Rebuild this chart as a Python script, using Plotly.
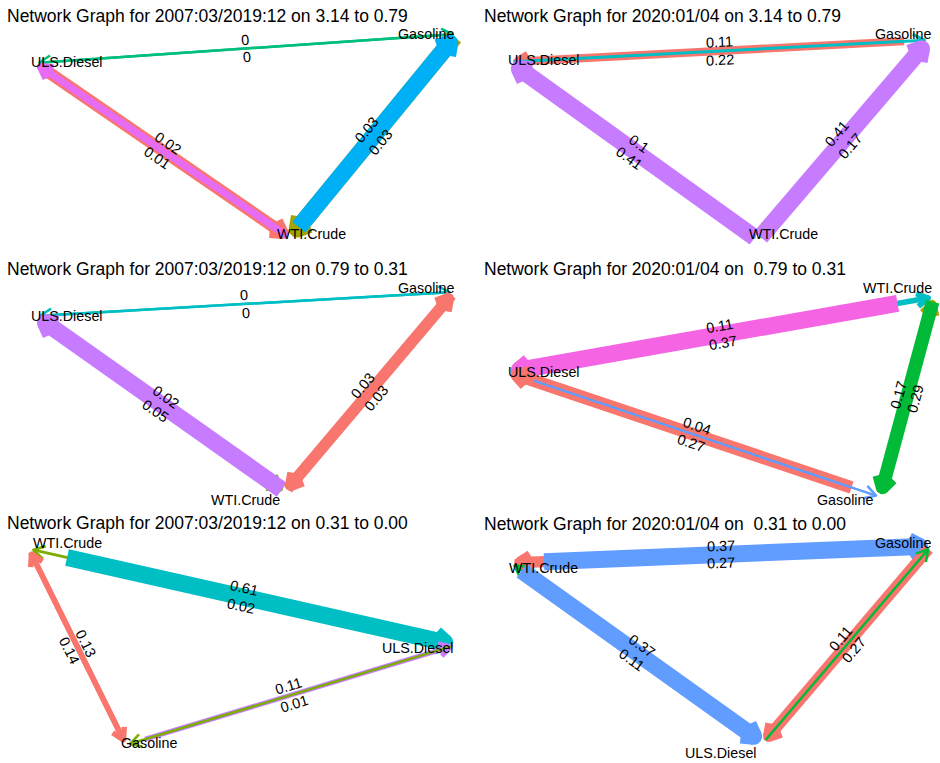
import math
import plotly.graph_objects as go

# ---------------------------------------------------------------- data
titles = [
    "Network Graph for 2007:03/2019:12 on 3.14 to 0.79",
    "Network Graph for 2020:01/04 on 3.14 to 0.79",
    "Network Graph for 2007:03/2019:12 on 0.79 to 0.31",
    "Network Graph for 2020:01/04 on\u00a0 0.79 to 0.31",
    "Network Graph for 2007:03/2019:12 on 0.31 to 0.00",
    "Network Graph for 2020:01/04 on\u00a0 0.31 to 0.00",
]

node_names = ["WTI.Crude", "Gasoline", "ULS.Diesel"]

# directed spillover edges per panel (drawing order: later edges on top)
p1_from = ["Gasoline", "ULS.Diesel", "ULS.Diesel", "WTI.Crude", "Gasoline", "WTI.Crude"]
p1_to = ["ULS.Diesel", "Gasoline", "WTI.Crude", "ULS.Diesel", "WTI.Crude", "Gasoline"]
p1_weight = [0, 0, 0.02, 0.01, 0.03, 0.03]

p2_from = ["Gasoline", "ULS.Diesel", "ULS.Diesel", "WTI.Crude", "Gasoline", "WTI.Crude"]
p2_to = ["ULS.Diesel", "Gasoline", "WTI.Crude", "ULS.Diesel", "WTI.Crude", "Gasoline"]
p2_weight = [0.22, 0.11, 0.1, 0.41, 0.17, 0.41]

p3_from = ["Gasoline", "ULS.Diesel", "ULS.Diesel", "WTI.Crude", "Gasoline", "WTI.Crude"]
p3_to = ["ULS.Diesel", "Gasoline", "WTI.Crude", "ULS.Diesel", "WTI.Crude", "Gasoline"]
p3_weight = [0, 0, 0.02, 0.05, 0.03, 0.03]

p4_from = ["ULS.Diesel", "WTI.Crude", "Gasoline", "WTI.Crude", "Gasoline", "ULS.Diesel"]
p4_to = ["WTI.Crude", "ULS.Diesel", "WTI.Crude", "Gasoline", "ULS.Diesel", "Gasoline"]
p4_weight = [0.11, 0.37, 0.17, 0.29, 0.27, 0.04]

p5_from = ["ULS.Diesel", "WTI.Crude", "Gasoline", "WTI.Crude", "Gasoline", "ULS.Diesel"]
p5_to = ["WTI.Crude", "ULS.Diesel", "WTI.Crude", "Gasoline", "ULS.Diesel", "Gasoline"]
p5_weight = [0.02, 0.61, 0.14, 0.13, 0.11, 0.01]

p6_from = ["Gasoline", "WTI.Crude", "ULS.Diesel", "WTI.Crude", "Gasoline", "ULS.Diesel"]
p6_to = ["WTI.Crude", "Gasoline", "WTI.Crude", "ULS.Diesel", "ULS.Diesel", "Gasoline"]
p6_weight = [0.27, 0.37, 0.11, 0.37, 0.27, 0.11]

# ---------------------------------------------------------------- styling
p1_colours = ["#00BF7D", "#00BF7D", "#F8766D", "#E76BF3", "#A3A500", "#00B0F6"]
p2_colours = ["#F8766D", "#00BFC4", "#00BFC4", "#C77CFF", "#7CAE00", "#C77CFF"]
p3_colours = ["#00BFC4", "#00BFC4", "#7CAE00", "#C77CFF", "#F8766D", "#F8766D"]
p4_colours = ["#00BFC4", "#F564E3", "#B79F00", "#00BA38", "#F8766D", "#619CFF"]
p5_colours = ["#7CAE00", "#00BFC4", "#F8766D", "#F8766D", "#C77CFF", "#7CAE00"]
p6_colours = ["#F8766D", "#619CFF", "#00BA38", "#619CFF", "#F8766D", "#00BA38"]

# distance (px) by which each edge line starts away from its source node
p1_start_cap = [4, 4, 12, 4, 4, 14]
p2_start_cap = [25, 4, 4, 4, 4, 4]
p3_start_cap = [4, 4, 4, 4, 4, 4]
p4_start_cap = [4, 37, 4, 5, 30, 27]
p5_start_cap = [4, 39, 4, 4, 20, 4]
p6_start_cap = [4, 33, 4, 13, 4, 4]

# node layout in page pixels, and where each node's name is written
p1_nodes = {"ULS.Diesel": (35, 63), "Gasoline": (457, 34), "WTI.Crude": (290, 238)}
p2_nodes = {"ULS.Diesel": (510, 62), "Gasoline": (929, 40), "WTI.Crude": (758, 240)}
p3_nodes = {"ULS.Diesel": (36, 316), "Gasoline": (454, 292), "WTI.Crude": (285, 492)}
p4_nodes = {"ULS.Diesel": (508, 372), "Gasoline": (880, 497), "WTI.Crude": (934, 297)}
p5_nodes = {"ULS.Diesel": (456, 645), "Gasoline": (126, 745), "WTI.Crude": (29, 549)}
p6_nodes = {"ULS.Diesel": (763, 743), "Gasoline": (931, 546), "WTI.Crude": (511, 563)}

p1_name_pos = {"ULS.Diesel": (67, 62), "Gasoline": (426, 34), "WTI.Crude": (311, 234)}
p2_name_pos = {"ULS.Diesel": (544, 60), "Gasoline": (903, 34), "WTI.Crude": (783, 234)}
p3_name_pos = {"ULS.Diesel": (67, 316), "Gasoline": (426, 288), "WTI.Crude": (245, 500)}
p4_name_pos = {"ULS.Diesel": (544, 372), "Gasoline": (845, 500), "WTI.Crude": (897, 288)}
p5_name_pos = {"ULS.Diesel": (418, 648), "Gasoline": (149, 743), "WTI.Crude": (67, 543)}
p6_name_pos = {"ULS.Diesel": (721, 753), "Gasoline": (903, 543), "WTI.Crude": (543, 568)}

title_pos = [(5, 16), (482, 16), (5, 269), (482, 269), (5, 523), (482, 524)]

panels = [
    (p1_from, p1_to, p1_weight, p1_colours, p1_start_cap, p1_nodes, p1_name_pos),
    (p2_from, p2_to, p2_weight, p2_colours, p2_start_cap, p2_nodes, p2_name_pos),
    (p3_from, p3_to, p3_weight, p3_colours, p3_start_cap, p3_nodes, p3_name_pos),
    (p4_from, p4_to, p4_weight, p4_colours, p4_start_cap, p4_nodes, p4_name_pos),
    (p5_from, p5_to, p5_weight, p5_colours, p5_start_cap, p5_nodes, p5_name_pos),
    (p6_from, p6_to, p6_weight, p6_colours, p6_start_cap, p6_nodes, p6_name_pos),
]

W, H = 940, 763
FONT = "Liberation Sans, Arial, sans-serif"
WIDTH_RANGE = (2.5, 17.0)
END_GAP = 3.0
ARM_LEN = 13.0
ARM_ANGLE = math.radians(30)
LABEL_DODGE = 9.0


# ---------------------------------------------------------------- geometry helpers
def add(p, q, s=1.0):
    return (p[0] + s * q[0], p[1] + s * q[1])


def rect(p, q, w):
    dx, dy = q[0] - p[0], q[1] - p[1]
    d = math.hypot(dx, dy) or 1.0
    nx, ny = -dy / d * w / 2, dx / d * w / 2
    return [(p[0] + nx, p[1] + ny), (q[0] + nx, q[1] + ny),
            (q[0] - nx, q[1] - ny), (p[0] - nx, p[1] - ny)]


def disc(c, r, k=20):
    return [(c[0] + r * math.cos(2 * math.pi * i / k),
             c[1] + r * math.sin(2 * math.pi * i / k)) for i in range(k)]


def edge_polygons(src, tgt, w, cap):
    """Line body plus an open (chevron) arrowhead, stroked at the edge width."""
    dx, dy = tgt[0] - src[0], tgt[1] - src[1]
    d = math.hypot(dx, dy)
    u = (dx / d, dy / d)
    n = (-u[1], u[0])
    tip = add(tgt, u, -(END_GAP + w / 2))
    start = add(src, u, cap)
    a1 = (-math.cos(ARM_ANGLE) * u[0] + math.sin(ARM_ANGLE) * n[0],
          -math.cos(ARM_ANGLE) * u[1] + math.sin(ARM_ANGLE) * n[1])
    a2 = (-math.cos(ARM_ANGLE) * u[0] - math.sin(ARM_ANGLE) * n[0],
          -math.cos(ARM_ANGLE) * u[1] - math.sin(ARM_ANGLE) * n[1])
    return [rect(start, tip, w),
            rect(tip, add(tip, a1, ARM_LEN), w),
            rect(tip, add(tip, a2, ARM_LEN), w),
            disc(tip, w / 2)]


def width_of(v, lo, hi):
    if hi == lo:
        return WIDTH_RANGE[0]
    return WIDTH_RANGE[0] + (v - lo) / (hi - lo) * (WIDTH_RANGE[1] - WIDTH_RANGE[0])


def fmt(v):
    return f"{v:g}"


# ---------------------------------------------------------------- figure
fig = go.Figure()
annotations = []

for k, (efrom, eto, weight, colours, caps, nodes, name_pos) in enumerate(panels):
    lo, hi = min(weight), max(weight)
    for s, t, v, col, cap in zip(efrom, eto, weight, colours, caps):
        w = width_of(v, lo, hi)
        for poly in edge_polygons(nodes[s], nodes[t], w, cap):
            xs = [p[0] for p in poly] + [poly[0][0]]
            ys = [p[1] for p in poly] + [poly[0][1]]
            fig.add_trace(go.Scatter(
                x=xs, y=ys, mode="lines", fill="toself", fillcolor=col,
                line=dict(width=0, color=col), hoverinfo="skip", showlegend=False,
            ))
        # edge weight label, dodged to the left of the edge direction
        sx, sy = nodes[s]
        tx, ty = nodes[t]
        d = math.hypot(tx - sx, ty - sy)
        ux, uy = (tx - sx) / d, (ty - sy) / d
        mx, my = (sx + tx) / 2 + LABEL_DODGE * uy, (sy + ty) / 2 - LABEL_DODGE * ux
        ang = math.degrees(math.atan2(ty - sy, tx - sx))
        if ang > 90:
            ang -= 180
        elif ang < -90:
            ang += 180
        annotations.append(dict(
            x=mx, y=my, xref="x", yref="y", text=fmt(v), showarrow=False,
            textangle=ang, xanchor="center", yanchor="middle",
            font=dict(family=FONT, size=14.5, color="black"),
        ))
    for name in node_names:
        x, y = name_pos[name]
        annotations.append(dict(
            x=x, y=y, xref="x", yref="y", text=name, showarrow=False,
            xanchor="center", yanchor="middle",
            font=dict(family=FONT, size=14.3, color="black"),
        ))
    tx, ty = title_pos[k]
    annotations.append(dict(
        x=tx, y=ty, xref="x", yref="y", text=titles[k], showarrow=False,
        xanchor="left", yanchor="middle",
        font=dict(family=FONT, size=17.5, color="black"),
    ))

fig.update_layout(
    width=W, height=H, autosize=False,
    margin=dict(l=0, r=0, t=0, b=0),
    paper_bgcolor="white", plot_bgcolor="white",
    xaxis=dict(range=[0, W], visible=False, fixedrange=True),
    yaxis=dict(range=[H, 0], visible=False, fixedrange=True),
    annotations=annotations,
    showlegend=False,
)

fig.write_html("out.html")
